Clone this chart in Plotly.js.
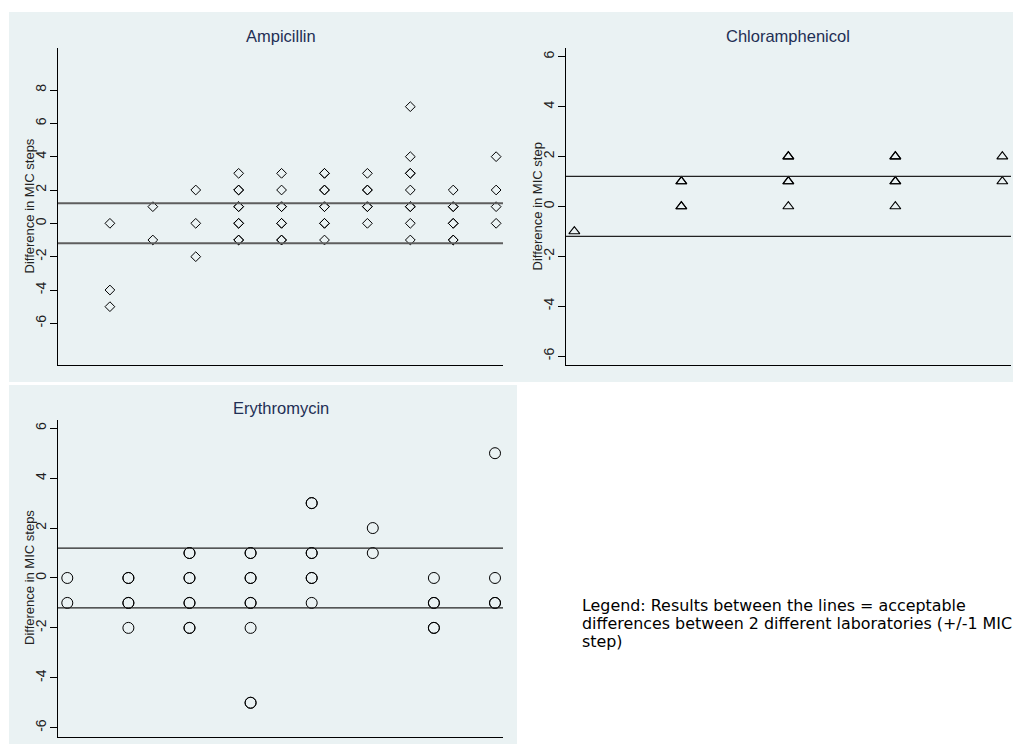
<!DOCTYPE html>
<html>
<head>
<meta charset="utf-8">
<script src="https://cdn.plot.ly/plotly-3.0.1.min.js"></script>
<style>html,body{margin:0;padding:0;background:#fff;}#chart{width:1013px;height:744px;}</style>
</head>
<body>
<div id="chart"></div>
<script>
// ---- Data ----
var panelTitles = ["Ampicillin", "Chloramphenicol", "Erythromycin"];
var yTitles = ["Difference in MIC steps", "Difference in MIC step", "Difference in MIC steps"];

// Ampicillin: column index and difference (duplicates appear as bolder markers)
var ampCol  = [1,1,1, 2,2, 3,3,3, 4,4,4,4,4,4,4,4,4, 5,5,5,5,5,5,5,5, 6,6,6,6,6,6,6,6,6, 7,7,7,7,7,7, 8,8,8,8,8,8,8,8,8, 9,9,9,9,9,9,9, 10,10,10,10];
var ampDiff = [0,-4,-5, 1,-1, 2,0,-2, 3,2,2,1,1,0,0,-1,-1, 3,2,1,1,0,0,-1,-1, 3,3,2,2,1,1,0,0,-1, 3,2,2,1,1,0, 7,4,3,3,2,1,1,0,-1, 2,1,1,0,0,-1,-1, 4,2,1,0];

// Chloramphenicol
var chlCol  = [1, 2,2,2,2, 3,3,3,3,3, 4,4,4,4,4, 5,5];
var chlDiff = [-1, 1,1,0,0, 2,2,1,1,0, 2,2,1,1,0, 2,1];

// Erythromycin
var eryCol  = [1,1, 2,2,2,2,2, 3,3,3,3,3,3,3,3, 4,4,4,4,4,4,4,4,4, 5,5,5,5,5,5,5, 6,6, 7,7,7,7,7, 8,8,8,8];
var eryDiff = [0,-1, 0,0,-1,-1,-2, 1,1,0,0,-1,-1,-2,-2, 1,1,0,0,-1,-1,-2,-5,-5, 3,3,1,1,0,0,-1, 2,1, 0,-1,-1,-2,-2, 5,0,-1,-1];

// Acceptable range limits (+/-1 MIC step band lines)
var limits = [-1.2, 1.2];

var ampTicks = [-6,-4,-2,0,2,4,6,8];
var otherTicks = [-6,-4,-2,0,2,4,6];

var legendLines = ["Legend: Results between the lines = acceptable",
                   "differences between 2 different laboratories (+/-1 MIC",
                   "step)"];

// ---- Plot ----
var W = 1013, H = 744;
function px(v){ return v / W; }
function py(v){ return 1 - v / H; }

var traces = [
  {x: ampCol, y: ampDiff, xaxis: 'x', yaxis: 'y', type: 'scatter', mode: 'markers',
   marker: {symbol: 'diamond-open', size: 7.5, color: '#000', line: {width: 1, color: '#000'}}, hoverinfo: 'none'},
  {x: chlCol, y: chlDiff, xaxis: 'x2', yaxis: 'y2', type: 'scatter', mode: 'markers',
   marker: {symbol: 'triangle-up-open', size: 9.5, color: '#000', line: {width: 1.1, color: '#000'}}, hoverinfo: 'none'},
  {x: eryCol, y: eryDiff, xaxis: 'x3', yaxis: 'y3', type: 'scatter', mode: 'markers',
   marker: {symbol: 'circle-open', size: 11, color: '#000', line: {width: 1, color: '#000'}}, hoverinfo: 'none'}
];

var fontFam = "Liberation Sans, Arial, sans-serif";
var bg = '#eaf2f3';

function xax(dom, range, anchor){
  return {domain: dom, range: range, anchor: anchor, showgrid: false, zeroline: false, showticklabels: false,
          ticks: '', showline: true, linecolor: '#000', linewidth: 1.3, fixedrange: true};
}
function yax(dom, range, ticks, anchor){
  return {domain: dom, range: range, anchor: anchor, tickvals: ticks, ticktext: ticks.map(String), tickangle: -90,
          ticks: 'outside', ticklen: 7, tickcolor: '#000', tickwidth: 1, ticklabelstandoff: -2,
          tickfont: {family: fontFam, size: 14, color: '#222'},
          showgrid: true, gridcolor: bg, gridwidth: 1, zeroline: false,
          showline: true, linecolor: '#000', linewidth: 1.3, fixedrange: true};
}

var shapes = [
  {type: 'rect', xref: 'paper', yref: 'paper', x0: px(9), x1: 1, y0: py(382), y1: py(12),
   fillcolor: bg, line: {width: 0}, layer: 'below'},
  {type: 'rect', xref: 'paper', yref: 'paper', x0: px(9), x1: px(517), y0: 0, y1: py(385),
   fillcolor: bg, line: {width: 0}, layer: 'below'}
];
var lineStyles = [
  {ax: 'y', color: '#5e5e5e', width: 2},
  {ax: 'y2', color: '#222', width: 1.3},
  {ax: 'y3', color: '#222', width: 1.3}
];
var xrefs = ['x', 'x2', 'x3'];
lineStyles.forEach(function(s, i){
  limits.forEach(function(v){
    shapes.push({type: 'line', xref: xrefs[i] + ' domain', yref: s.ax, x0: 0, x1: 1, y0: v, y1: v,
                 line: {color: s.color, width: s.width}, layer: 'above'});
  });
});

var titleFont = {family: fontFam, size: 16.5, color: '#1f2f55'};
var axTitleFont = {family: fontFam, size: 13, color: '#222'};
var annotations = [
  {text: panelTitles[0], xref: 'paper', yref: 'paper', x: px(281), y: py(36), showarrow: false, font: titleFont, xanchor: 'center', yanchor: 'middle'},
  {text: panelTitles[1], xref: 'paper', yref: 'paper', x: px(788), y: py(36), showarrow: false, font: titleFont, xanchor: 'center', yanchor: 'middle'},
  {text: panelTitles[2], xref: 'paper', yref: 'paper', x: px(281), y: py(408), showarrow: false, font: titleFont, xanchor: 'center', yanchor: 'middle'},
  {text: yTitles[0], xref: 'paper', yref: 'paper', x: px(29), y: py(206.5), showarrow: false, textangle: -90, font: axTitleFont, xanchor: 'center', yanchor: 'middle'},
  {text: yTitles[1], xref: 'paper', yref: 'paper', x: px(537), y: py(206.5), showarrow: false, textangle: -90, font: axTitleFont, xanchor: 'center', yanchor: 'middle'},
  {text: yTitles[2], xref: 'paper', yref: 'paper', x: px(29), y: py(578), showarrow: false, textangle: -90, font: axTitleFont, xanchor: 'center', yanchor: 'middle'}
];
var legendY = [605, 623, 641];
legendLines.forEach(function(t, i){
  annotations.push({text: t, xref: 'paper', yref: 'paper', x: px(580), y: py(legendY[i]), showarrow: false, align: 'left',
    xanchor: 'left', yanchor: 'middle', font: {family: "DejaVu Sans, Verdana, sans-serif", size: 15.9, color: '#000'}});
});

var layout = {
  width: W, height: H,
  margin: {l: 0, r: 0, t: 0, b: 0, pad: 0},
  paper_bgcolor: '#fff', plot_bgcolor: '#fff',
  showlegend: false,
  xaxis: xax([px(58), px(503)], [-0.21, 10.16], 'y'),
  yaxis: yax([py(365), py(48)], [-8.5, 10.52], ampTicks, 'x'),
  xaxis2: xax([px(566), px(1011)], [0.922, 5.081], 'y2'),
  yaxis2: yax([py(365), py(48)], [-6.36, 6.35], otherTicks, 'x2'),
  xaxis3: xax([px(58), px(503)], [0.848, 8.131], 'y3'),
  yaxis3: yax([py(736.7), py(420)], [-6.36, 6.33], otherTicks, 'x3'),
  shapes: shapes,
  annotations: annotations,
  font: {family: fontFam}
};

Plotly.newPlot('chart', traces, layout, {staticPlot: true, displayModeBar: false});
</script>
</body>
</html>
